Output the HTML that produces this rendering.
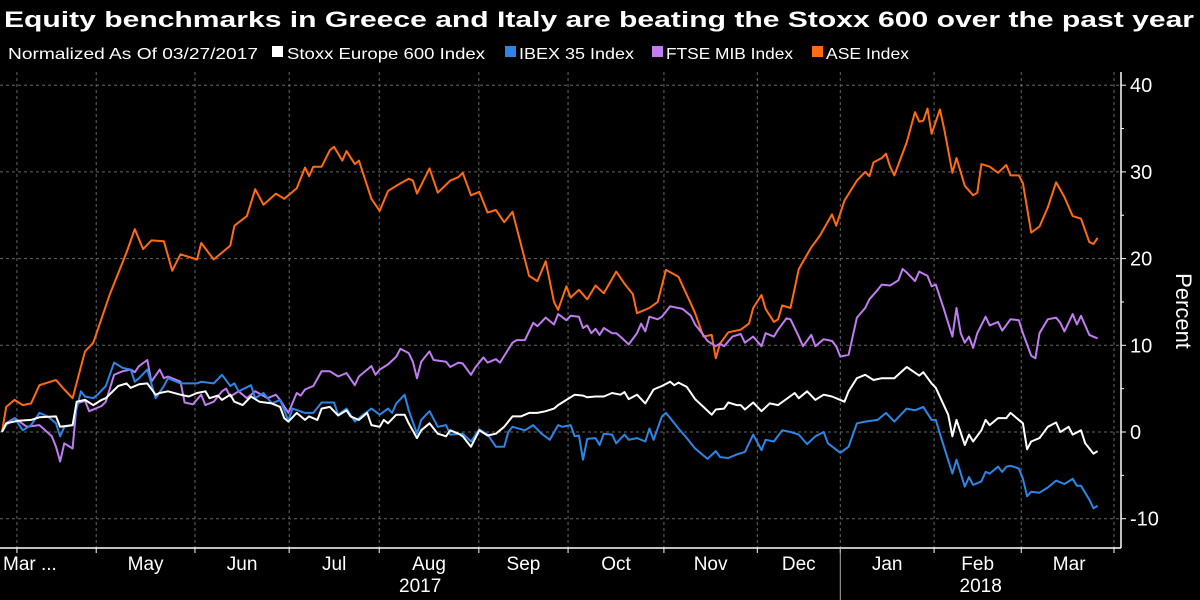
<!DOCTYPE html>
<html><head><meta charset="utf-8"><style>
html,body{margin:0;padding:0;background:#000;}
svg{display:block;font-family:"Liberation Sans",sans-serif;}
</style></head><body>
<svg id="chart" width="1200" height="600" viewBox="0 0 1200 600" xmlns="http://www.w3.org/2000/svg">
<rect x="0" y="0" width="1200" height="600" fill="#000"/>
<text x="4" y="27" fill="#fff" font-size="22" font-weight="bold" textLength="1190" lengthAdjust="spacingAndGlyphs">Equity benchmarks in Greece and Italy are beating the Stoxx 600 over the past year</text>
<g font-size="16" fill="#fff">
<text x="8" y="59" textLength="250" lengthAdjust="spacingAndGlyphs">Normalized As Of 03/27/2017</text>
<g><rect x="272" y="46" width="11" height="11" fill="#ffffff"/><text x="287" y="59" textLength="198" lengthAdjust="spacingAndGlyphs">Stoxx Europe 600 Index</text></g>
<g><rect x="505" y="46" width="11" height="11" fill="#2d86e6"/><text x="519" y="59" textLength="115" lengthAdjust="spacingAndGlyphs">IBEX 35 Index</text></g>
<g><rect x="652" y="46" width="11" height="11" fill="#c07cf0"/><text x="666" y="59" textLength="127" lengthAdjust="spacingAndGlyphs">FTSE MIB Index</text></g>
<g><rect x="812" y="46" width="11" height="11" fill="#ff6a13"/><text x="826" y="59" textLength="83" lengthAdjust="spacingAndGlyphs">ASE Index</text></g>
</g>
<g id="grid"></g>
<g id="axes"></g>
<g id="series"></g>
</svg>
<script>
const yTicks = [40, 30, 20, 10, 0, -10];
const yMinor = [35, 25, 15, 5, -5];
const monthBounds = [3.6, 22.7, 46.5, 69.2, 90.9, 114.9, 136.4, 159.5, 182, 202, 224.6, 245.6, 268.7];
const monthLabels = ["Mar ...", "May", "Jun", "Jul", "Aug", "Sep", "Oct", "Nov", "Dec", "Jan", "Feb", "Mar"];
const yearLabels = ["2017", "2018"];
const yearSplit = 202;

const stoxx = [[0,0],[1,1.0],[4,1.3],[7,1.4],[9,1.7],[13,1.8],[14,0.6],[17,0.8],[18,3.5],[20,3.7],[22,3.1],[24,3.7],[25,3.9],[28,5.3],[30,5.6],[31,5.1],[33,5.5],[35,5.6],[37,4.3],[38,4.5],[40,4.7],[43,4.3],[45,4.1],[47,4.5],[49,4.7],[50,3.9],[52,4.2],[53,3.7],[55,4.3],[56,3.5],[58,3.1],[60,4.1],[62,3.5],[65,3.3],[67,2.9],[68,1.6],[69,1.2],[71,2.2],[73,1.4],[74,1.8],[76,1.4],[77,2.7],[79,2.9],[81,1.9],[83,2.5],[84,1.8],[86,1.4],[88,2.2],[89,0.8],[91,0.6],[92,1.4],[93,1.0],[95,2.0],[97,2.0],[98,1.0],[100,-0.7],[101,0.2],[103,1.0],[105,-0.2],[107,-0.5],[108,0.2],[110,-0.2],[111,-0.5],[113,-1.7],[115,0.2],[117,-0.4],[119,-0.2],[121,0.6],[123,1.8],[125,1.8],[127,2.2],[129,2.2],[131,2.4],[133,2.7],[134,3.1],
[136,3.7],[138,4.3],[140,4.2],[141,4.0],[143,4.1],[145,4.1],[147,4.5],[149,4.3],[150,4.6],[151,3.8],[153,4.3],[155,3.3],[157,4.9],[159,5.3],[161,5.8],[162,5.4],[163,5.7],[165,5.2],[167,3.8],[169,2.9],[171,2.0],[172,2.6],[174,2.7],[175,3.4],[177,3.1],[178,3.1],[179,2.6],[181,3.4],[183,2.4],[185,3.3],[187,3.1],[189,3.8],[191,4.5],[192,3.9],[194,4.7],[196,3.7],[198,4.3],[200,4.1],[203,3.5],[204,4.7],[206,6.2],[208,6.6],[210,6.0],[212,6.2],[215,6.2],[218,7.5],[221,6.5],[222,6.9],[224,5.6],[225,5.1],[228,2.0],[229,-0.5],[230,1.4],[232,-1.5],[233,-0.3],[234,-1.1],[236,0.2],[237,1.4],[238,0.8],[240,1.6],[242,1.6],[243,2.2],[246,1.0],[247,-2.0],[248,-1.1],[250,-0.7],[252,0.6],[254,1.1],[255,0.0],[257,0.6],[258,-0.3],[260,0.2],[261,-1.3],[263,-2.5],[264,-2.2]];

const ibex = [[0,0],[1,0.8],[3,1.6],[5,0.2],[7,0.8],[9,2.2],[11,1.8],[13,1.0],[14,-0.5],[15,0.6],[17,0.8],[19,4.7],[20,4.1],[22,3.9],[23,4.3],[25,5.3],[27,8.0],[29,7.4],[31,7.2],[32,5.8],[33,6.2],[35,7.2],[37,3.9],[39,5.3],[40,6.2],[43,5.6],[47,5.6],[48,5.8],[51,5.6],[53,6.6],[55,5.3],[56,5.6],[57,4.7],[60,5.4],[61,3.9],[63,4.5],[65,3.3],[67,3.7],[69,1.3],[70,2.7],[73,2.2],[75,2.2],[77,3.4],[80,3.4],[81,2.0],[83,2.7],[85,1.2],[87,2.0],[89,2.7],[91,2.0],[93,2.7],[94,2.2],[95,3.3],[97,4.3],[98,2.5],[100,-0.2],[101,1.4],[103,2.4],[105,0.6],[107,0.8],[108,-0.3],[111,-0.2],[113,-1.1],[115,0.3],[117,-0.3],[119,-1.7],[121,-1.7],[122,0.0],[123,0.6],[126,0.2],[128,0.8],[130,-0.2],[132,-0.9],[134,0.8],
[135,0.6],[137,0.8],[138,-0.5],[139,-0.4],[140,-3.2],[141,-0.8],[143,-0.7],[144,-1.5],[145,-0.2],[147,-0.3],[148,-1.3],[150,-0.3],[151,-0.9],[153,-0.7],[155,-1.1],[156,0.4],[157,-0.9],[159,1.8],[160,2.2],[161,1.6],[163,0.4],[165,-0.7],[167,-1.9],[170,-3.1],[172,-2.2],[173,-2.9],[175,-3.0],[177,-2.6],[179,-2.3],[181,-0.3],[183,-2.1],[184,-0.9],[186,-1.1],[188,0.2],[190,0.0],[192,-0.3],[194,-1.4],[196,-0.5],[198,0.0],[199,-1.3],[202,-2.4],[204,-1.7],[206,1.0],[208,1.2],[211,1.4],[213,2.2],[215,1.2],[218,2.7],[220,2.5],[222,2.9],[224,1.4],[225,1.4],[226,-0.2],[229,-4.8],[230,-3.2],[232,-6.3],[233,-5.2],[234,-6.1],[236,-5.7],[237,-4.6],[238,-4.8],[240,-4.0],[241,-4.6],[242,-4.0],[243,-3.9],[245,-4.2],[246,-5.4],[247,-7.4],[248,-6.9],[250,-7.0],[252,-6.4],[254,-5.6],[256,-6.0],[258,-5.4],[259,-6.2],[260,-6.2],[262,-7.8],[263,-8.8],[264,-8.5]];

const ftse = [[0,0],[1,1.0],[3,1.6],[6,0.6],[9,0.8],[12,-0.5],[13,-1.7],[14,-3.4],[15,-1.3],[17,-1.9],[18,3.3],[20,3.6],[21,2.4],[24,3.0],[25,3.5],[27,6.6],[29,7.0],[31,7.2],[32,6.9],[33,7.6],[35,8.3],[36,5.8],[38,7.2],[39,6.2],[40,6.4],[43,5.8],[44,3.4],[46,3.2],[48,4.3],[49,3.1],[51,3.5],[53,4.7],[54,5.0],[55,4.1],[57,4.7],[59,3.9],[61,4.7],[64,3.9],[66,4.3],[67,3.7],[69,2.2],[71,4.5],[72,4.2],[73,4.9],[75,5.3],[77,7.0],[79,7.0],[81,6.4],[83,6.8],[85,5.4],[86,6.4],[89,7.6],[90,6.6],[91,7.2],[93,7.8],[95,8.7],[96,9.6],[98,9.1],[99,8.1],[100,6.2],[101,8.1],[103,9.3],[104,8.3],[107,8.1],[108,7.5],[110,8.0],[111,7.9],[113,6.6],[114,7.4],[116,8.6],[117,8.0],[119,8.4],[120,8.0],[123,10.3],[124,10.6],[126,10.6],[128,12.6],[129,12.2],[131,13.2],[133,12.4],[134,13.6],
[136,12.9],[137,13.4],[139,13.3],[140,12.0],[141,12.3],[142,11.4],[143,11.9],[144,11.2],[145,12.0],[147,11.4],[148,11.4],[149,11.0],[151,10.1],[153,11.4],[154,12.5],[155,11.6],[156,13.3],[158,13.0],[159,13.3],[161,14.5],[164,14.2],[166,13.4],[167,12.4],[169,11.2],[170,10.5],[172,9.9],[173,10.2],[174,9.9],[176,11.0],[178,11.3],[179,10.3],[181,11.0],[183,9.9],[184,11.4],[186,11.0],[187,11.8],[189,13.1],[190,13.0],[192,11.0],[193,9.9],[195,11.2],[196,9.9],[198,10.7],[200,10.5],[201,9.9],[202,8.7],[204,8.9],[206,13.2],[208,14.3],[209,15.3],[211,16.4],[212,17.0],[214,16.9],[216,17.5],[217,18.8],[218,18.4],[220,17.4],[221,18.5],[223,18.0],[224,16.8],[225,17.0],[227,14.1],[229,11.0],[230,14.3],[231,11.4],[232,10.3],[233,11.0],[234,9.7],[235,11.4],[237,13.3],[238,12.3],[240,12.7],[241,11.7],[243,13.0],[245,12.9],[246,11.4],[248,8.8],[249,8.5],[250,11.4],[252,13.0],[254,13.2],[255,12.6],[256,11.6],[258,13.6],[259,12.4],[260,13.4],[262,11.2],[264,10.8]];

const ase = [[0,0],[1,2.9],[3,3.7],[5,3.1],[7,3.3],[9,5.4],[13,6.0],[15,4.9],[17,3.9],[20,9.3],[22,10.3],[26,15.9],[30,20.7],[32,23.4],[34,21.1],[36,22.1],[39,22.0],[41,18.6],[43,20.5],[47,19.9],[48,21.8],[51,19.9],[55,21.5],[56,23.8],[59,24.9],[61,28.0],[63,26.2],[66,27.5],[68,26.9],[71,28.1],[73,30.5],[74,29.5],[75,30.6],[77,30.6],[79,32.5],[80,32.9],[82,31.3],[83,32.4],[85,30.9],[86,31.3],[89,26.9],[91,25.5],[93,27.8],[95,28.4],[98,29.2],[99,29.0],[100,27.5],[103,30.4],[105,27.6],[108,29.0],[110,29.4],[111,29.9],[113,27.3],[115,27.7],[117,25.3],[119,25.6],[121,24.2],[123,25.4],[127,18.0],[129,17.4],[131,19.7],[133,15.0],[134,14.1],[136,16.8],[137,15.5],[139,16.4],[141,15.3],[143,16.9],[145,16.0],[148,18.5],[150,17.1],[152,15.9],[153,13.7],[156,14.3],[158,15.0],[160,18.7],[163,17.9],[166,14.8],[167,13.7],[169,11.0],[171,11.2],[172,8.5],[173,10.2],[175,11.5],[178,11.8],[180,12.5],[181,14.3],[183,15.8],[184,14.2],[186,12.7],[187,13.0],[188,14.6],[190,14.3],[192,18.8],[195,21.3],[197,22.6],[200,25.1],[201,23.8],[203,26.7],[206,29.0],[208,30.0],[209,29.5],[210,31.1],[212,31.6],[213,32.1],[214,30.6],[215,29.6],[218,33.4],[220,36.9],[221,35.8],[222,35.9],[223,37.3],[224,34.4],[226,37.2],[227,35.0],[228,32.5],[229,29.9],[230,31.6],[232,28.4],[234,27.3],[235,27.6],[236,30.9],[238,30.6],[240,29.9],[242,30.8],[243,29.6],[245,29.6],[246,28.7],[248,23.0],[250,23.7],[252,25.9],[254,28.8],[256,27.1],[258,24.9],[260,24.6],[262,21.9],[263,21.7],[264,22.4]];

const NS = "http://www.w3.org/2000/svg";
const plotTop = 72, plotBottom = 548, axisX = 1121;
function xScale(t) { return 2 + t * 4.15; }
function yScale(v) { return 432 - v * 8.67; }
function mk(tag, attrs, parent) {
  const e = document.createElementNS(NS, tag);
  for (const k in attrs) e.setAttribute(k, attrs[k]);
  parent.appendChild(e);
  return e;
}
const grid = document.getElementById('grid');
const axes = document.getElementById('axes');
const seriesG = document.getElementById('series');

yTicks.forEach(v => {
  const l = mk('line', {x1: 0, x2: axisX, y1: yScale(v), y2: yScale(v), stroke: '#666', 'stroke-width': 1, 'stroke-dasharray': '3,3'}, grid);
  
  
  const tk = mk('line', {x1: axisX, x2: axisX + 5, y1: yScale(v), y2: yScale(v), stroke: '#fff', 'stroke-width': 1}, axes);
  
  
  const tx = mk('text', {x: axisX + 9, y: yScale(v) + 7, fill: '#fff', 'font-size': 20}, axes);
  tx.textContent = v;
  
  
});
yMinor.forEach(v => {
  const tk = mk('line', {x1: axisX, x2: axisX + 3, y1: yScale(v), y2: yScale(v), stroke: '#fff', 'stroke-width': 1}, axes);
  
  
});
monthBounds.forEach(t => {
  const x = Math.min(xScale(t), 1114);
  const l = mk('line', {x1: x, x2: x, y1: plotTop, y2: plotBottom, stroke: '#666', 'stroke-width': 1, 'stroke-dasharray': '3,3'}, grid);
  
  
  const tk = mk('line', {x1: x, x2: x, y1: plotBottom, y2: plotBottom + 5, stroke: '#fff', 'stroke-width': 1}, axes);
  
  
});
monthLabels.forEach((m, i) => {
  const x0 = xScale(monthBounds[i]), x1 = xScale(monthBounds[i + 1]);
  const first = i === 0;
  const tx = mk('text', {x: first ? 3 : (x0 + x1) / 2, y: 570, fill: '#fff', 'font-size': 19, 'text-anchor': first ? 'start' : 'middle'}, axes);
  tx.textContent = m;
  
  
});
const xa = mk('line', {x1: 0, x2: axisX, y1: plotBottom, y2: plotBottom, stroke: '#fff', 'stroke-width': 1.5}, axes);


const ya = mk('line', {x1: axisX, x2: axisX, y1: plotTop, y2: plotBottom, stroke: '#fff', 'stroke-width': 1.5}, axes);


const sep = mk('line', {x1: xScale(yearSplit), x2: xScale(yearSplit), y1: plotBottom, y2: 600, stroke: '#aaa', 'stroke-width': 1}, axes);


const y1 = mk('text', {x: (0 + xScale(yearSplit)) / 2, y: 592, fill: '#fff', 'font-size': 19, 'text-anchor': 'middle'}, axes);
y1.textContent = yearLabels[0];


const y2 = mk('text', {x: (xScale(yearSplit) + axisX) / 2, y: 592, fill: '#fff', 'font-size': 19, 'text-anchor': 'middle'}, axes);
y2.textContent = yearLabels[1];


const yt = mk('text', {x: 0, y: 0, fill: '#fff', 'font-size': 22, 'text-anchor': 'middle', transform: 'translate(1176,311) rotate(90)'}, axes);
yt.textContent = 'Percent';



function drawSeries(data, color, name) {
  const d = data.map((p, i) => (i ? 'L' : 'M') + xScale(p[0]).toFixed(1) + ',' + yScale(p[1]).toFixed(1)).join(' ');
  const path = mk('path', {d: d, fill: 'none', stroke: color, 'stroke-width': 2, 'stroke-linejoin': 'round'}, seriesG);
  
  
}
drawSeries(ase, '#ff6a13', 'ase-index-line');
drawSeries(ftse, '#c07cf0', 'ftse-mib-line');
drawSeries(ibex, '#2d86e6', 'ibex-35-line');
drawSeries(stoxx, '#ffffff', 'stoxx-600-line');
</script>
</body></html>
